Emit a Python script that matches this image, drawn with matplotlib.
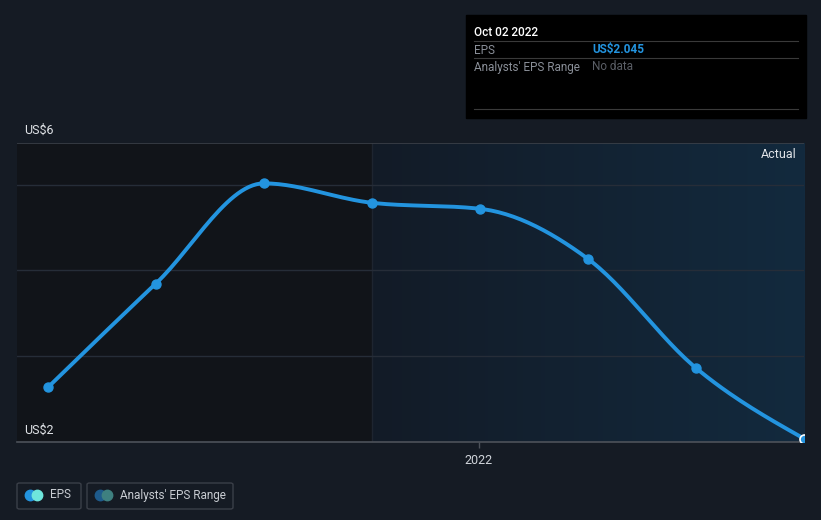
import numpy as np
import matplotlib
matplotlib.use("Agg")
import matplotlib.pyplot as plt
import matplotlib.dates as mdates
from matplotlib.colors import LinearSegmentedColormap
from matplotlib.patches import Rectangle, FancyBboxPatch
import datetime as dt

plt.rcParams['font.family'] = ['Roboto', 'DejaVu Sans']

# data
dates = ["2021-01-03", "2021-04-04", "2021-07-04", "2021-10-03",
         "2022-01-02", "2022-04-03", "2022-07-03", "2022-10-02"]
eps = [2.73, 4.12, 5.46, 5.20, 5.12, 4.45, 2.99, 2.045]
y_labels = ["US$2", "US$6"]
grid_vals = [3.15, 4.30, 5.44]
past_start = "2021-10-03"

BG = "#151b24"
LINE = "#2394df"


def monotone_x(x, y, n=30):
    # d3 curveMonotoneX-style smoothing for drawing
    x = np.asarray(x, float)
    y = np.asarray(y, float)
    h = np.diff(x)
    s = np.diff(y) / h
    m = np.zeros_like(y)
    for i in range(1, len(y) - 1):
        if s[i - 1] * s[i] <= 0:
            m[i] = 0
        else:
            p = (s[i - 1] * h[i] + s[i] * h[i - 1]) / (h[i - 1] + h[i])
            m[i] = np.sign(s[i - 1]) * min(2 * abs(s[i - 1]), 2 * abs(s[i]), abs(p))
    m[0] = (3 * s[0] - m[1]) / 2
    m[-1] = (3 * s[-1] - m[-2]) / 2
    xs, ys = [], []
    for i in range(len(h)):
        t = np.linspace(0, 1, n)
        h00 = 2 * t**3 - 3 * t**2 + 1
        h10 = t**3 - 2 * t**2 + t
        h01 = -2 * t**3 + 3 * t**2
        h11 = t**3 - t**2
        xs.append(x[i] + t * h[i])
        ys.append(h00 * y[i] + h10 * h[i] * m[i] + h01 * y[i + 1] + h11 * h[i] * m[i + 1])
    return np.concatenate(xs), np.concatenate(ys)


xd = mdates.date2num([dt.datetime.fromisoformat(d) for d in dates])
x0 = xd[0] - 26
x1 = xd[-1]
ymin, ymax = 2.0, 6.0

fig = plt.figure(figsize=(8.21, 5.20), dpi=100, facecolor=BG)
ax = fig.add_axes([17 / 821, 1 - 442 / 520, (804 - 17) / 821, (442 - 143) / 520])
ax.set_facecolor(BG)
ax.set_xlim(x0, x1)
ax.set_ylim(ymin, ymax)

# shaded regions
xp = mdates.date2num(dt.datetime.fromisoformat(past_start))
ax.add_patch(Rectangle((x0, ymin), xp - x0, ymax - ymin, color="#111419", zorder=0, lw=0))
cmap = LinearSegmentedColormap.from_list("g", ["#121b27", "#132a3e"])
ax.imshow(np.linspace(0, 1, 256).reshape(1, -1), cmap=cmap, aspect="auto",
          extent=[xp, x1, ymin, ymax], zorder=0)
ax.axvline(xp, color="#1e2530", lw=1, zorder=1)

for g in grid_vals:
    ax.axhline(g, color="#262d38", lw=1, zorder=1)
ax.axhline(ymax, color="#3b4048", lw=1.2, zorder=2)
ax.axhline(ymin, color="#4d525a", lw=1.2, zorder=2, clip_on=False)

sx, sy = monotone_x(xd, eps)
ax.plot(sx, sy, color=LINE, lw=2.8, zorder=4, solid_capstyle="round")
ax.scatter(xd[:-1], eps[:-1], s=42, color=LINE, zorder=5, clip_on=False)
ax.scatter(xd[-1:], eps[-1:], s=42, facecolor=LINE, edgecolor="white",
           linewidth=1.2, zorder=6)

for s in ax.spines.values():
    s.set_visible(False)
ax.set_yticks([])
ax.set_xticks([mdates.date2num(dt.datetime(2022, 1, 1))])
ax.set_xticklabels(["2022"])
ax.tick_params(axis="x", colors="#4d525a", length=4, width=1, labelcolor="#d0d4da",
               labelsize=9, pad=5)

fig.text(24 / 821, 1 - 130 / 520, y_labels[1], color="#e0e3e7", fontsize=9, va="center")
fig.text(24 / 821, 1 - 430 / 520, y_labels[0], color="#e0e3e7", fontsize=9, va="center")
fig.text(797 / 821, 1 - 154 / 520, "Actual", color="#e0e3e7", fontsize=9,
         va="center", ha="right")

# tooltip box
W, H = 821, 520
fig.patches.append(Rectangle((466 / W, 1 - 118 / H), 340 / W, 103 / H,
                             transform=fig.transFigure, color="black", zorder=10))
for yy in (41, 58, 109):
    fig.lines.append(plt.Line2D([474 / W, 798 / W], [1 - yy / H] * 2,
                                transform=fig.transFigure, color="#3a3a3a",
                                lw=0.8, zorder=11))
fig.text(474 / W, 1 - 32 / H, "Oct 02 2022", color="white", fontsize=8.5,
         va="center", zorder=12, fontweight="medium")
fig.text(474 / W, 1 - 50 / H, "EPS", color="#8a8f98", fontsize=8.5, va="center", zorder=12)
fig.text(592 / W, 1 - 50 / H, "US$2.045", color="#2394df", fontsize=8.5,
         va="center", zorder=12, fontweight="bold")
fig.text(474 / W, 1 - 67 / H, "Analysts' EPS Range", color="#8a8f98", fontsize=8.5,
         va="center", zorder=12)
fig.text(592 / W, 1 - 67 / H, "No data", color="#5a5e66", fontsize=8.5,
         va="center", zorder=12)

# legend
legend_items = [("EPS", 17, 81, "#2394df", "#6ee6dc"),
                ("Analysts' EPS Range", 87, 233, "#1e5b8c", "#3e8080")]
for label, lx0, lx1, c1, c2 in legend_items:
    fig.patches.append(FancyBboxPatch((lx0 / W, 1 - 509 / H), (lx1 - lx0) / W, 26 / H,
                                      boxstyle="round,pad=0,rounding_size=0.003",
                                      transform=fig.transFigure, facecolor="none",
                                      edgecolor="#3a3f48", lw=1))
    fig.lines.append(plt.Line2D([(lx0 + 13) / W], [1 - 495 / H], marker="o", ms=7.5,
                                color=c1, transform=fig.transFigure, lw=0))
    fig.lines.append(plt.Line2D([(lx0 + 20) / W], [1 - 495 / H], marker="o", ms=7.5,
                                color=c2, transform=fig.transFigure, lw=0))
    fig.text((lx0 + 33) / W, 1 - 495 / H, label, color="#c8ccd2", fontsize=8.5,
             va="center")

fig.savefig("out.png", dpi=100, facecolor=BG)
